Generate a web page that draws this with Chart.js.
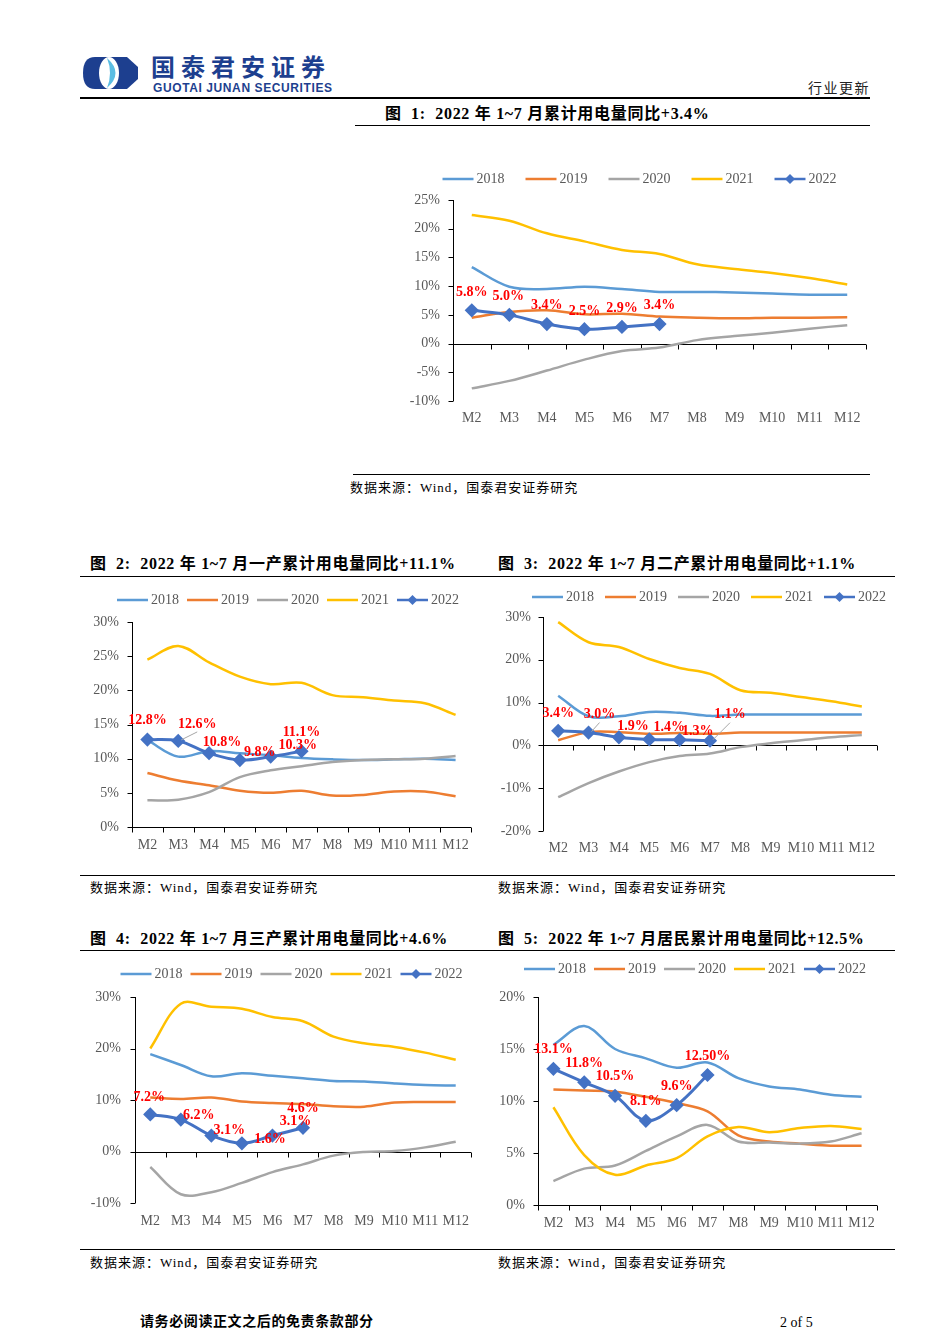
<!DOCTYPE html>
<html>
<head>
<meta charset="utf-8">
<script src="https://cdn.jsdelivr.net/npm/chart.js@4.4.0/dist/chart.umd.min.js"></script>
<style>
    body { margin: 0; background: #fff; }
    #page { position: relative; width: 950px; height: 1344px; overflow: hidden; background: #fff;
            font-family: "Liberation Serif", "Noto Sans CJK SC", serif; color: #000; }
    .abs { position: absolute; white-space: nowrap; line-height: 1; }
    .rule { position: absolute; height: 0; border-top: 1.5px solid #000; }
    .title { font-size: 16px; font-weight: bold; letter-spacing: 0.7px; }
    .src { font-size: 13px; letter-spacing: 1px; }
    .box { position: absolute; }
</style>
</head>
<body>
<div id="page">
    <!-- header -->
    <svg class="abs" style="left:83px;top:57px" width="55" height="32" viewBox="0 0 55 32">
        <path d="M12,0 L44,0 L55,10 L55,22 L44,32 L12,32 Q0,32 0,16 Q0,0 12,0 Z" fill="#1d3f8f"/>
        <ellipse cx="26" cy="16" rx="10" ry="16" fill="#fff"/>
        <path d="M24,1 Q41,16 24,31 Q30,16 24,1 Z" fill="#5bbde3"/>
    </svg>
    <div class="abs" style="left:151px;top:48px;font:bold 24px 'Noto Sans CJK SC';letter-spacing:6px;color:#1d3f8f">国泰君安证券</div>
    <div class="abs" style="left:153px;top:81px;font:bold 12px 'Liberation Sans';letter-spacing:0.6px;color:#1d3f8f">GUOTAI JUNAN SECURITIES</div>
    <div class="abs" style="left:808px;top:77px;font:14px 'Noto Sans CJK SC';letter-spacing:1.5px;color:#222">行业更新</div>
    <div class="rule" style="left:80px;top:97px;width:790px;border-top-width:2px"></div>

    <!-- figure 1 -->
    <div class="abs title" style="left:385px;top:106px">图&nbsp; 1:&nbsp; 2022 年 1~7 月累计用电量同比+3.4%</div>
    <div class="rule" style="left:355px;top:125px;width:515px"></div>
    <div class="box" style="left:395px;top:166px;width:490px;height:270px"><canvas id="c1" width="490" height="270"></canvas></div>
    <div class="rule" style="left:353px;top:474px;width:517px"></div>
    <div class="abs src" style="left:350px;top:481px">数据来源：Wind，国泰君安证券研究</div>

    <!-- figures 2, 3 -->
    <div class="abs title" style="left:90px;top:556px">图&nbsp; 2:&nbsp; 2022 年 1~7 月一产累计用电量同比+11.1%</div>
    <div class="abs title" style="left:498px;top:556px">图&nbsp; 3:&nbsp; 2022 年 1~7 月二产累计用电量同比+1.1%</div>
    <div class="rule" style="left:80px;top:576px;width:815px"></div>
    <div class="box" style="left:80px;top:585px;width:400px;height:270px"><canvas id="c2" width="400" height="270"></canvas></div>
    <div class="box" style="left:490px;top:583px;width:400px;height:280px"><canvas id="c3" width="400" height="280"></canvas></div>
    <div class="rule" style="left:80px;top:875px;width:815px"></div>
    <div class="abs src" style="left:90px;top:881px">数据来源：Wind，国泰君安证券研究</div>
    <div class="abs src" style="left:498px;top:881px">数据来源：Wind，国泰君安证券研究</div>

    <!-- figures 4, 5 -->
    <div class="abs title" style="left:90px;top:931px">图&nbsp; 4:&nbsp; 2022 年 1~7 月三产累计用电量同比+4.6%</div>
    <div class="abs title" style="left:498px;top:931px">图&nbsp; 5:&nbsp; 2022 年 1~7 月居民累计用电量同比+12.5%</div>
    <div class="rule" style="left:80px;top:950px;width:815px"></div>
    <div class="box" style="left:80px;top:960px;width:400px;height:275px"><canvas id="c4" width="400" height="275"></canvas></div>
    <div class="box" style="left:490px;top:955px;width:400px;height:280px"><canvas id="c5" width="400" height="280"></canvas></div>
    <div class="rule" style="left:80px;top:1249px;width:815px"></div>
    <div class="abs src" style="left:90px;top:1256px">数据来源：Wind，国泰君安证券研究</div>
    <div class="abs src" style="left:498px;top:1256px">数据来源：Wind，国泰君安证券研究</div>

    <!-- footer -->
    <div class="abs" style="left:140px;top:1315px;font-size:14px;font-weight:bold;letter-spacing:0.6px">请务必阅读正文之后的免责条款部分</div>
    <div class="abs" style="left:780px;top:1316px;font-size:14px">2 of 5</div>
</div>

<script>
// ---------- data (cumulative YoY %) ----------
const months = ['M2', 'M3', 'M4', 'M5', 'M6', 'M7', 'M8', 'M9', 'M10', 'M11', 'M12'];
const years = ['2018', '2019', '2020', '2021', '2022'];
const seriesColors = ['#5B9BD5', '#ED7D31', '#A5A5A5', '#FFC000', '#4472C4'];

// Fig 1: total
const total2018 = [13.3, 9.9, 9.5, 9.9, 9.5, 9.0, 9.0, 8.9, 8.7, 8.5, 8.5];
const total2019 = [4.5, 5.5, 5.8, 5.1, 5.2, 4.7, 4.5, 4.4, 4.5, 4.5, 4.6];
const total2020 = [-7.8, -6.5, -4.7, -2.8, -1.3, -0.7, 0.6, 1.3, 1.9, 2.6, 3.2];
const total2021 = [22.4, 21.4, 19.2, 17.8, 16.3, 15.6, 13.8, 13.0, 12.3, 11.4, 10.3];
const total2022 = [5.8, 5.0, 3.4, 2.5, 2.9, 3.4];
const totalLabels = ['5.8%', '5.0%', '3.4%', '2.5%', '2.9%', '3.4%'];
const totalTicks = [-10, 25, 5];

// Fig 2: primary industry
const primary2018 = [12.7, 10.3, 11.1, 10.8, 10.5, 10.1, 9.9, 9.8, 9.9, 10.0, 9.8];
const primary2019 = [7.9, 6.8, 6.1, 5.3, 5.0, 5.3, 4.6, 4.7, 5.2, 5.2, 4.5];
const primary2020 = [3.9, 4.0, 5.1, 7.3, 8.3, 8.9, 9.5, 9.8, 9.9, 10.0, 10.4];
const primary2021 = [24.5, 26.5, 24.1, 22.0, 20.9, 21.1, 19.3, 19.0, 18.5, 18.1, 16.4];
const primary2022 = [12.8, 12.6, 10.8, 9.8, 10.3, 11.1];
const primaryLabels = ['12.8%', '12.6%', '10.8%', '9.8%', '10.3%', '11.1%'];
const primaryTicks = [0, 30, 5];

// Fig 3: secondary industry
const secondary2018 = [11.6, 6.8, 6.8, 7.8, 7.6, 6.9, 7.2, 7.2, 7.2, 7.2, 7.2];
const secondary2019 = [1.2, 3.1, 3.1, 2.7, 2.9, 2.7, 3.0, 3.0, 3.0, 3.0, 3.0];
const secondary2020 = [-12.1, -8.8, -6.1, -3.9, -2.5, -1.9, -0.4, 0.5, 1.2, 1.9, 2.4];
const secondary2021 = [28.8, 24.1, 23.0, 20.2, 18.1, 16.7, 12.9, 12.3, 11.3, 10.3, 9.1];
const secondary2022 = [3.4, 3.0, 1.9, 1.4, 1.3, 1.1];
const secondaryLabels = ['3.4%', '3.0%', '1.9%', '1.4%', '1.3%', '1.1%'];
const secondaryTicks = [-20, 30, 10];

// Fig 4: tertiary industry
const tertiary2018 = [18.9, 16.8, 14.6, 15.2, 14.7, 14.2, 13.7, 13.6, 13.2, 12.9, 12.8];
const tertiary2019 = [10.5, 10.2, 10.5, 9.7, 9.4, 9.2, 8.8, 8.7, 9.5, 9.6, 9.6];
const tertiary2020 = [-3.0, -8.3, -7.9, -6.1, -4.0, -2.5, -0.8, -0.1, 0.1, 0.8, 1.9];
const tertiary2021 = [20.0, 28.7, 28.1, 27.7, 26.1, 25.3, 22.3, 21.0, 20.3, 19.2, 17.8];
const tertiary2022 = [7.2, 6.2, 3.1, 1.6, 3.1, 4.6];
const tertiaryLabels = ['7.2%', '6.2%', '3.1%', '1.6%', '3.1%', '4.6%'];
const tertiaryTicks = [-10, 30, 10];

// Fig 5: residential
const resident2018 = [15.4, 17.2, 15.0, 14.1, 13.2, 13.7, 12.2, 11.4, 11.1, 10.6, 10.4];
const resident2019 = [11.1, 11.0, 10.9, 10.4, 9.8, 9.0, 6.7, 6.1, 5.9, 5.7, 5.7];
const resident2020 = [2.3, 3.5, 3.8, 5.2, 6.6, 7.7, 6.1, 6.0, 5.9, 6.1, 6.9];
const resident2021 = [9.4, 4.8, 2.9, 3.8, 4.5, 6.6, 7.5, 7.0, 7.4, 7.6, 7.3];
const resident2022 = [13.1, 11.8, 10.5, 8.1, 9.6, 12.5];
const residentLabels = ['13.1%', '11.8%', '10.5%', '8.1%', '9.6%', '12.50%'];
const residentTicks = [0, 20, 5];

// ---------- label placement (px offsets from each 2022 point) ----------
const totalOffsets = [[0, -18], [-1, -18], [0, -19], [0, -18], [0, -19], [0, -19]];
const primaryOffsets = [[0, -19], [19, -17], [13, -11], [20, -8], [27, -11], [0, -19]];
const primaryLeaders = [false, true, false, false, false, false];
const secondaryOffsets = [[0, -17], [11, -18], [14, -11], [20, -12], [18, -8], [20, -26]];
const secondaryLeaders = [false, true, false, false, false, true];
const tertiaryOffsets = [[-1, -17], [18, -4], [18, -5], [28, -4], [23, -14], [0, -19]];
const residentOffsets = [[0, -19], [0, -19], [0, -19], [0, -19], [0, -19], [0, -19]];

const SERIF = '"Liberation Serif", "Times New Roman", serif';
const GREY = '#595959';

// Excel-like axes: y axis with outward ticks, horizontal axis through 0 with category ticks
const excelAxes = {
    id: 'excelAxes',
    beforeDatasetsDraw(chart) {
        const { ctx, chartArea: a, scales: { x, y } } = chart;
        const L = Math.round(a.left) + 0.5;
        const Y0 = Math.round(y.getPixelForValue(0)) + 0.5;
        ctx.save();
        ctx.strokeStyle = '#000';
        ctx.lineWidth = 1;
        ctx.beginPath();
        ctx.moveTo(L, a.top);
        ctx.lineTo(L, a.bottom);
        y.ticks.forEach(t => {
            const p = Math.round(y.getPixelForValue(t.value)) + 0.5;
            ctx.moveTo(L - 5, p);
            ctx.lineTo(L, p);
        });
        ctx.moveTo(a.left, Y0);
        ctx.lineTo(a.right, Y0);
        const n = x.ticks.length;
        const w = (a.right - a.left) / n;
        for (let i = 0; i <= n; i++) {
            const p = Math.round(a.left + i * w) + 0.5;
            ctx.moveTo(p, Y0);
            ctx.lineTo(p, Y0 + 5);
        }
        ctx.stroke();
        ctx.restore();
    }
};

// legend drawn as Excel does it: line sample, diamond for the marker series
const excelLegend = {
    id: 'excelLegend',
    afterDraw(chart, args, opts) {
        const { ctx } = chart;
        const ds = chart.data.datasets;
        const lineW = 31, gap = 3, textW = 29;
        const total = opts.pitch * (ds.length - 1) + lineW + gap + textW;
        let x = opts.cx - total / 2;
        ctx.save();
        ctx.font = '14px ' + SERIF;
        ctx.textBaseline = 'middle';
        ds.forEach(d => {
            ctx.strokeStyle = d.borderColor;
            ctx.lineWidth = 2.5;
            ctx.beginPath();
            ctx.moveTo(x, opts.cy);
            ctx.lineTo(x + lineW, opts.cy);
            ctx.stroke();
            if (d.pointRadius > 0) {
                const cx = x + lineW / 2, r = 5;
                ctx.fillStyle = d.borderColor;
                ctx.beginPath();
                ctx.moveTo(cx, opts.cy - r);
                ctx.lineTo(cx + r, opts.cy);
                ctx.lineTo(cx, opts.cy + r);
                ctx.lineTo(cx - r, opts.cy);
                ctx.closePath();
                ctx.fill();
            }
            ctx.fillStyle = GREY;
            ctx.fillText(d.label, x + lineW + gap, opts.cy);
            x += opts.pitch;
        });
        ctx.restore();
    }
};

// red value labels on the 2022 series
const pointLabels = {
    id: 'pointLabels',
    afterDatasetsDraw(chart) {
        const { ctx } = chart;
        chart.data.datasets.forEach((d, di) => {
            if (!d.valueTexts) return;
            const meta = chart.getDatasetMeta(di);
            ctx.save();
            d.valueTexts.forEach((t, i) => {
                const el = meta.data[i];
                const [dx, dy] = d.labelOffsets[i];
                if (d.leaders && d.leaders[i]) {
                    ctx.strokeStyle = '#A6A6A6';
                    ctx.lineWidth = 1;
                    ctx.beginPath();
                    ctx.moveTo(el.x + 3, el.y - 1);
                    ctx.lineTo(el.x + dx, el.y + dy + 8);
                    ctx.stroke();
                }
                ctx.font = 'bold 14px ' + SERIF;
                ctx.fillStyle = '#FF0000';
                ctx.textAlign = 'center';
                ctx.textBaseline = 'middle';
                ctx.fillText(t, el.x + dx, el.y + dy);
            });
            ctx.restore();
        });
    }
};

function makeChart(id, series, labels, offsets, leaders, ticks, lay) {
    const datasets = series.map((vals, i) => {
        const isNow = i === series.length - 1;
        return {
            label: years[i],
            data: vals,
            borderColor: seriesColors[i],
            backgroundColor: seriesColors[i],
            borderWidth: isNow ? 3 : 2.5,
            tension: 0.35,
            pointRadius: isNow ? 5 : 0,
            pointStyle: 'rectRot',
            order: series.length - 1 - i,
            valueTexts: isNow ? labels : undefined,
            labelOffsets: isNow ? offsets : undefined,
            leaders: isNow ? leaders : undefined
        };
    });

    new Chart(document.getElementById(id), {
        type: 'line',
        data: { labels: months, datasets },
        plugins: [excelAxes, excelLegend, pointLabels],
        options: {
            responsive: false,
            animation: false,
            layout: { padding: { top: lay.top, right: lay.right, left: 0, bottom: 0 } },
            plugins: {
                legend: { display: false },
                tooltip: { enabled: false },
                excelLegend: { cx: lay.legendX, cy: lay.legendY, pitch: lay.pitch }
            },
            scales: {
                x: {
                    offset: true,
                    grid: { display: false, drawTicks: false },
                    border: { display: false },
                    ticks: { color: GREY, font: { family: SERIF, size: 14 }, padding: lay.xPad,
                             maxRotation: 0, autoSkip: false },
                    afterFit: s => { s.height = lay.xHeight; }
                },
                y: {
                    min: ticks[0],
                    max: ticks[1],
                    grid: { display: false, drawTicks: false },
                    border: { display: false },
                    ticks: { stepSize: ticks[2], color: GREY, font: { family: SERIF, size: 14 },
                             padding: lay.yPad, callback: v => v + '%' },
                    afterFit: s => { s.width = lay.yWidth; }
                }
            }
        }
    });
}

makeChart('c1', [total2018, total2019, total2020, total2021, total2022],
    totalLabels, totalOffsets, null, totalTicks,
    { top: 34, right: 19, yWidth: 58, xHeight: 35, xPad: 9, yPad: 13, legendX: 245, legendY: 13, pitch: 83 });

makeChart('c2', [primary2018, primary2019, primary2020, primary2021, primary2022],
    primaryLabels, primaryOffsets, primaryLeaders, primaryTicks,
    { top: 37, right: 9, yWidth: 52, xHeight: 28, xPad: 10, yPad: 13, legendX: 208.5, legendY: 15, pitch: 70 });

makeChart('c3', [secondary2018, secondary2019, secondary2020, secondary2021, secondary2022],
    secondaryLabels, secondaryOffsets, secondaryLeaders, secondaryTicks,
    { top: 34, right: 13, yWidth: 53, xHeight: 32, xPad: 9, yPad: 12, legendX: 219.5, legendY: 14, pitch: 73 });

makeChart('c4', [tertiary2018, tertiary2019, tertiary2020, tertiary2021, tertiary2022],
    tertiaryLabels, tertiaryOffsets, null, tertiaryTicks,
    { top: 37, right: 9, yWidth: 55, xHeight: 32, xPad: 10, yPad: 14, legendX: 212, legendY: 14, pitch: 70 });

makeChart('c5', [resident2018, resident2019, resident2020, resident2021, resident2022],
    residentLabels, residentOffsets, null, residentTicks,
    { top: 42, right: 13, yWidth: 48, xHeight: 30, xPad: 10, yPad: 13, legendX: 205.5, legendY: 14, pitch: 70 });
</script>
</body>
</html>
